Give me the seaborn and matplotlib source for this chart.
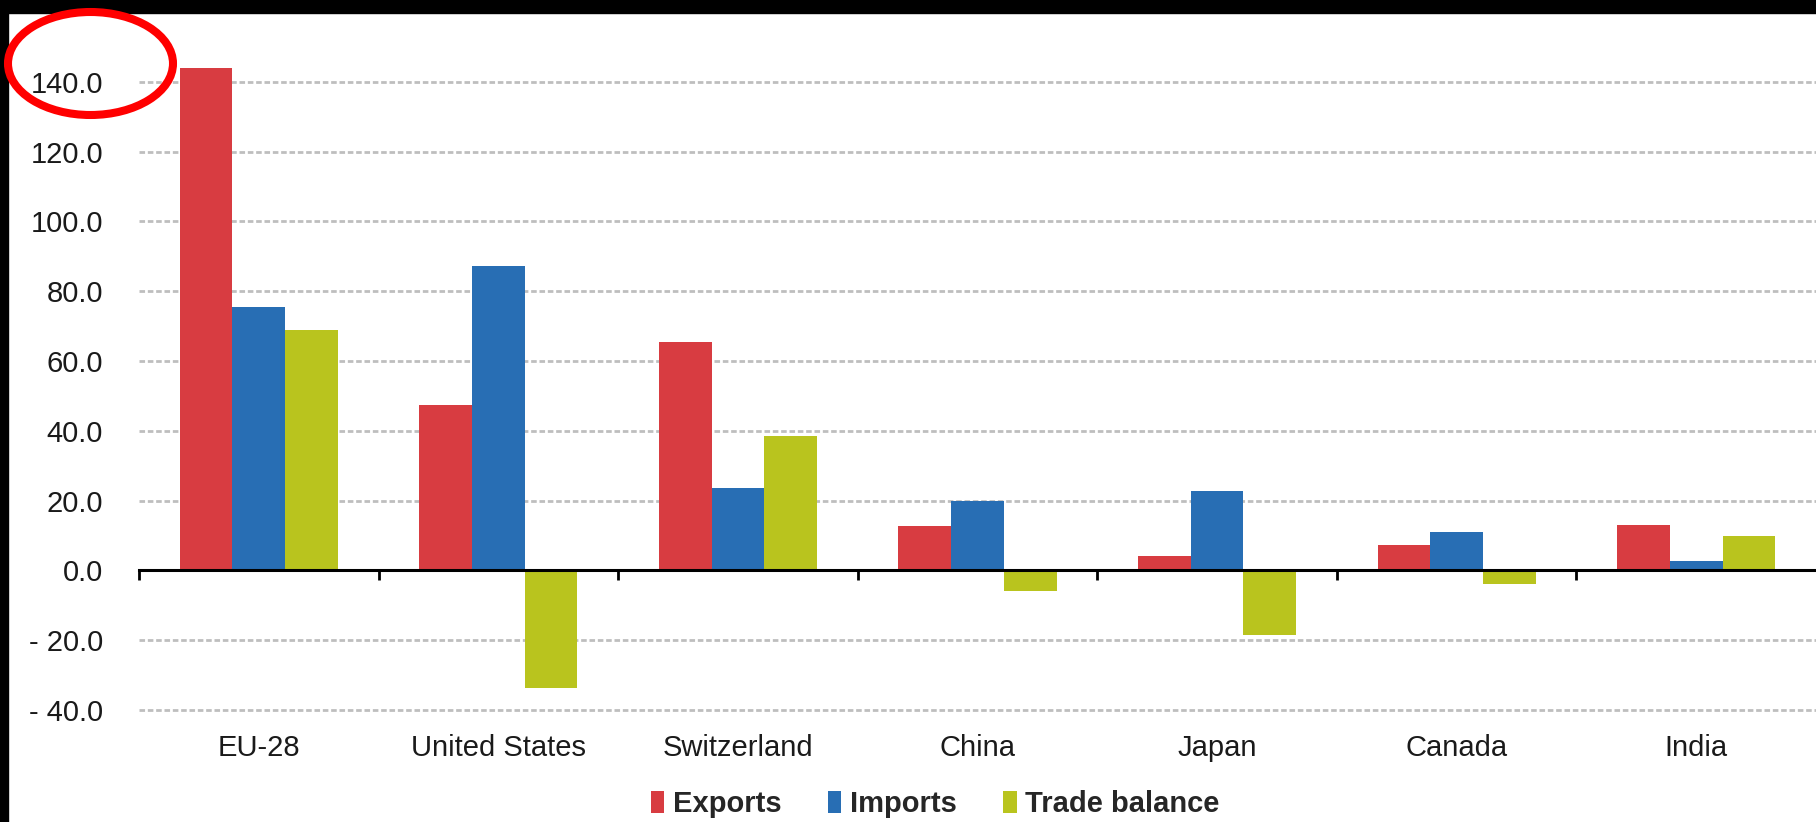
import pandas as pd
import seaborn as sns
import matplotlib.pyplot as plt
from matplotlib.patches import Rectangle, Ellipse
from matplotlib.ticker import FixedLocator

sns.set_theme(style="white")
plt.rcParams["font.family"] = ["Liberation Sans", "DejaVu Sans"]

# data
countries = ["EU-28", "United States", "Switzerland", "China", "Japan", "Canada", "India"]
exports = [144.0, 47.3, 65.3, 12.6, 4.2, 7.4, 13.1]
imports = [75.5, 87.2, 23.5, 19.9, 22.8, 11.1, 2.8]
balance = [69.0, -33.6, 38.4, -5.9, -18.4, -4.0, 9.9]
series = ["Exports", "Imports", "Trade balance"]
colors = ["#D83C41", "#286EB4", "#B9C41E"]
yticks = [-40, -20, 0, 20, 40, 60, 80, 100, 120, 140]
ytick_labels = ["- 40.0", "- 20.0", "0.0", "20.0", "40.0", "60.0", "80.0", "100.0", "120.0", "140.0"]

df = pd.DataFrame({
    "country": countries * 3,
    "series": [s for s in series for _ in countries],
    "value": exports + imports + balance,
})

fig = plt.figure(figsize=(18.16, 8.22), dpi=100)
ax = fig.add_axes([139 / 1816, 1 - 712 / 822, 1 - 139 / 1816, (712 - 12) / 822])

sns.barplot(data=df, x="country", y="value", hue="series", palette=colors,
            width=0.66, gap=0, saturation=1, errorbar=None, linewidth=0,
            ax=ax, zorder=3)

ax.set_ylim(-40.6, 160)
ax.set_xlim(-0.5, len(countries) - 0.5)
ax.set_yticks(yticks)
ax.set_yticklabels(ytick_labels, fontsize=21, color="#1a1a1a")
ax.tick_params(axis="y", length=0, pad=26)

# dashed grid
for y in yticks:
    if y != 0:
        ax.axhline(y, color="#BEBEBE", lw=2, ls=(0, (2, 1)), zorder=1)

# category axis on the zero line, ticks between groups
for s in ["top", "right", "left"]:
    ax.spines[s].set_visible(False)
ax.spines["bottom"].set_position(("data", 0))
ax.spines["bottom"].set_color("black")
ax.spines["bottom"].set_linewidth(2.2)
ax.spines["bottom"].set_zorder(4)
ax.xaxis.set_major_locator(FixedLocator([i - 0.5 for i in range(len(countries))]))
ax.xaxis.set_minor_locator(FixedLocator(list(range(len(countries)))))
ax.set_xticklabels([""] * len(countries))
ax.set_xticklabels(countries, minor=True, fontsize=21, color="#1a1a1a")
ax.tick_params(axis="x", which="major", bottom=True, length=7, width=2,
               direction="out", color="black")
ax.tick_params(axis="x", which="minor", bottom=True, length=0, pad=118)
ax.set_xlabel("")
ax.set_ylabel("")
ax.legend_.remove()

handles, labels = ax.get_legend_handles_labels()
fig.legend(handles, labels, loc="center", bbox_to_anchor=(0.515, 1 - 804 / 822), ncol=3,
           frameon=False, handlelength=0.45, handleheight=0.75, handletextpad=0.3,
           columnspacing=1.6, prop={"size": 21, "weight": "bold"})

# black frame strips and red highlight ellipse
fig.patches.append(Rectangle((0, 1 - 13 / 822), 1, 13 / 822, transform=fig.transFigure,
                             color="black", zorder=10))
fig.patches.append(Rectangle((0, 0), 8 / 1816, 1, transform=fig.transFigure,
                             color="black", zorder=10))
fig.patches.append(Ellipse((90.5 / 1816, 1 - 63.5 / 822), 165 / 1816, 103 / 822,
                           transform=fig.transFigure, fill=False, edgecolor="red",
                           lw=5.8, zorder=11))

fig.savefig("out.png", dpi=100)
